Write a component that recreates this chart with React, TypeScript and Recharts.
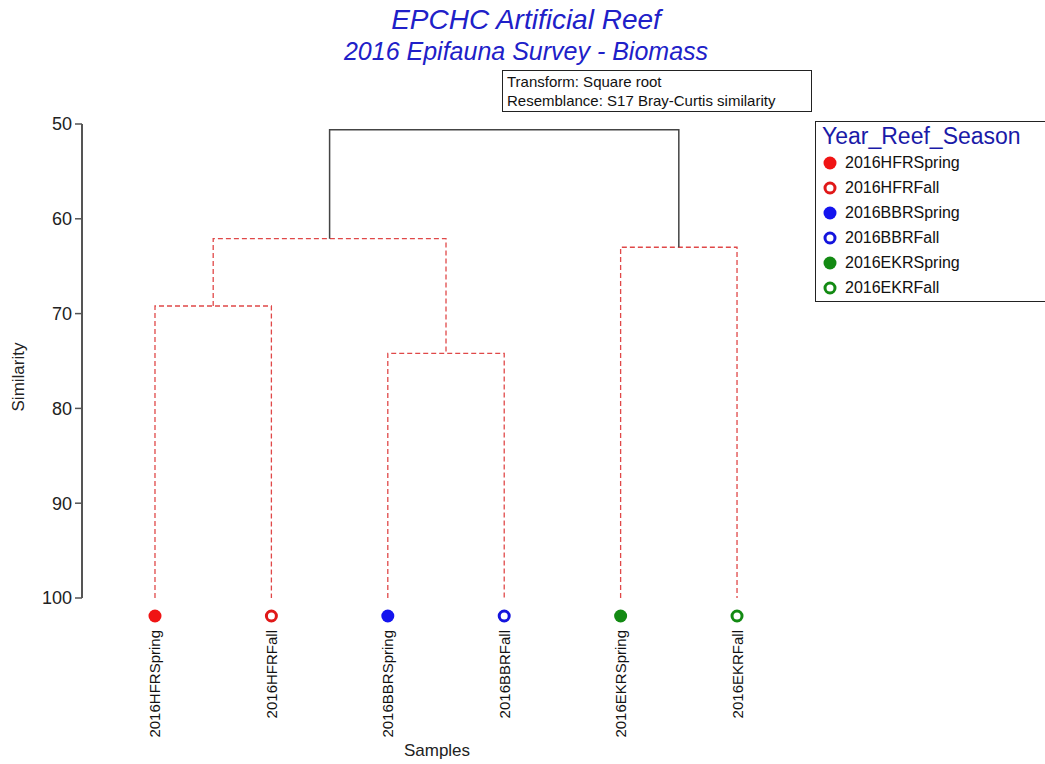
import React from 'react';
import { ComposedChart, Line, XAxis, YAxis, Label } from 'recharts';

const FONT = '"Liberation Sans", Arial, sans-serif';

// leaves (dendrogram order)
const samples = ['2016HFRSpring', '2016HFRFall', '2016BBRSpring', '2016BBRFall', '2016EKRSpring', '2016EKRFall'];
const samplePos = [1, 2, 3, 4, 5, 6];
const sampleColors = ['#f01414', '#e01818', '#1414ee', '#1414dd', '#138a13', '#138a13'];
const sampleFilled = [true, false, true, false, true, false];

// joins: child positions, child heights and the similarity where they join
const joinLeftX = [1, 3, 1.5, 5, 2.5];
const joinRightX = [2, 4, 3.5, 6, 5.5];
const joinLeftFrom = [100, 100, 69.2, 100, 62.1];
const joinRightFrom = [100, 100, 74.2, 100, 63.0];
const joinLevel = [69.2, 74.2, 62.1, 63.0, 50.6];
const joinSolid = [false, false, false, false, true];

const yTicks = [50, 60, 70, 80, 90, 100];

const links = joinLevel.map((lvl, i) => [
  { x: joinLeftX[i], y: joinLeftFrom[i] },
  { x: joinLeftX[i], y: lvl },
  { x: joinRightX[i], y: lvl },
  { x: joinRightX[i], y: joinRightFrom[i] },
]);

const LeafTick = (props: any) => {
  const { x, y, payload } = props;
  const i = samplePos.indexOf(payload.value);
  if (i < 0) return null;
  const c = sampleColors[i];
  return (
    <g>
      {sampleFilled[i]
        ? <circle cx={x} cy={y + 18} r={6.5} fill={c} />
        : <circle cx={x} cy={y + 18} r={5} fill="#fff" stroke={c} strokeWidth={3} />}
      <text
        transform={`translate(${x},${y + 32}) rotate(-90)`}
        textAnchor="end"
        dominantBaseline="central"
        fontSize={15}
        fontFamily={FONT}
        fill="#111"
      >
        {samples[i]}
      </text>
    </g>
  );
};

const SamplesLabel = (props: any) => {
  const vb = props.viewBox;
  return (
    <text x={vb.x + vb.width / 2 - 4} y={756} textAnchor="middle" fontSize={17} fontFamily={FONT} fill="#222">
      Samples
    </text>
  );
};

const SimilarityLabel = (props: any) => {
  const vb = props.viewBox;
  const cy = vb.y + vb.height / 2 + 16;
  return (
    <text transform={`translate(18,${cy}) rotate(-90)`} textAnchor="middle" dominantBaseline="central" fontSize={17} fontFamily={FONT} fill="#222">
      Similarity
    </text>
  );
};

export default function App() {
  return (
    <div style={{ position: 'relative', width: 1045, height: 764, overflow: 'hidden', background: '#fff', fontFamily: FONT }}>
      <style>{'body{margin:0} svg.recharts-surface{overflow:visible}'}</style>

      <div style={{ position: 'absolute', left: 326, width: 400, top: 6, textAlign: 'center', fontSize: 28, lineHeight: '28px', fontStyle: 'italic', color: '#2020c8' }}>
        EPCHC Artificial Reef
      </div>
      <div style={{ position: 'absolute', left: 276, width: 500, top: 39, textAlign: 'center', fontSize: 25, lineHeight: '25px', fontStyle: 'italic', color: '#2020c8' }}>
        2016 Epifauna Survey - Biomass
      </div>

      <div style={{ position: 'absolute', left: 502, top: 70, width: 304, height: 39, border: '1px solid #222', fontSize: 15, lineHeight: '19px', padding: '1px 0 0 4px', boxSizing: 'content-box', color: '#111', whiteSpace: 'nowrap' }}>
        <div>Transform: Square root</div>
        <div>Resemblance: S17 Bray-Curtis similarity</div>
      </div>

      <div style={{ position: 'absolute', left: 815, top: 121, width: 300, border: '1px solid #222', background: '#fff', padding: '0 0 1px 6px' }}>
        <div style={{ fontSize: 23, lineHeight: '28px', color: '#1a1aa8' }}>Year_Reef_Season</div>
        {samples.map((s, i) => (
          <div key={s} style={{ display: 'flex', alignItems: 'center', height: 25, fontSize: 16, color: '#111' }}>
            <svg width={18} height={16} style={{ marginRight: 5 }}>
              {sampleFilled[i]
                ? <circle cx={8} cy={8} r={6.5} fill={sampleColors[i]} />
                : <circle cx={8} cy={8} r={5} fill="#fff" stroke={sampleColors[i]} strokeWidth={3} />}
            </svg>
            {s}
          </div>
        ))}
      </div>

      <div style={{ position: 'absolute', left: 0, top: 0 }}>
        <ComposedChart width={1045} height={764} margin={{ top: 124, right: 245, bottom: 0, left: 0 }}>
          <XAxis
            type="number"
            dataKey="x"
            domain={[0.373, 6.541]}
            ticks={samplePos}
            interval={0}
            height={166}
            axisLine={false}
            tickLine={false}
            tickSize={0}
            tickMargin={0}
            tick={<LeafTick />}
          >
            <Label content={<SamplesLabel />} />
          </XAxis>
          <YAxis
            type="number"
            dataKey="y"
            domain={[50, 100]}
            reversed
            ticks={yTicks}
            interval={0}
            width={82}
            axisLine={{ stroke: '#555', strokeWidth: 2 }}
            tickLine={{ stroke: '#555', strokeWidth: 1.5 }}
            tickSize={7}
            tickMargin={3}
            tick={{ fill: '#222', fontSize: 18, fontFamily: FONT }}
          >
            <Label content={<SimilarityLabel />} />
          </YAxis>
          {links.map((d, i) => (
            <Line
              key={`link-${i}`}
              data={d}
              dataKey="y"
              type="linear"
              stroke={joinSolid[i] ? '#444' : '#e04848'}
              strokeWidth={joinSolid[i] ? 1.5 : 1.3}
              strokeDasharray={joinSolid[i] ? undefined : '5 3'}
              dot={false}
              activeDot={false}
              isAnimationActive={false}
            />
          ))}
        </ComposedChart>
      </div>
    </div>
  );
}
